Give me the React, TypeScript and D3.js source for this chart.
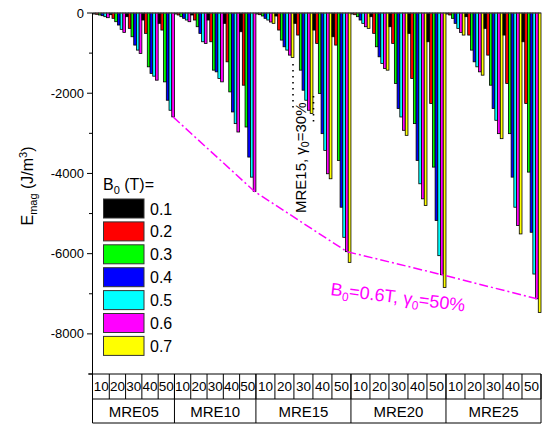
import React from "react";
import * as d3 from "d3";

const mreGroups = ["MRE05", "MRE10", "MRE15", "MRE20", "MRE25"];
const strainLabels = ["10", "20", "30", "40", "50"];
const b0Labels = ["0.1", "0.2", "0.3", "0.4", "0.5", "0.6", "0.7"];
const b0Colors = ["#000000", "#ff0000", "#00ff00", "#0000ff", "#00ffff", "#ff00ff", "#ffff00"];

// values per strain (rows) and B0 (columns)
const mre05 = [
  [-25, -33, -50, -67, -92, -117],
  [-42, -133, -217, -300, -408, -483],
  [-92, -383, -592, -800, -925, -1008],
  [-175, -508, -1342, -1508, -1575, -1675],
  [-258, -425, -1717, -2175, -2425, -2590],
];
const mre10 = [
  [-25, -50, -92, -133, -175, -217],
  [-50, -175, -342, -508, -717, -758],
  [-175, -717, -1425, -1467, -1633, -1717],
  [-258, -1217, -1967, -2467, -2758, -2967],
  [-467, -1800, -2842, -3592, -4092, -4450],
];
const mre15 = [
  [-25, -42, -75, -133, -175, -225, -258],
  [-75, -425, -675, -842, -925, -1050, -1108],
  [-258, -550, -1425, -1925, -2175, -2425, -2508],
  [-425, -758, -2008, -3008, -3425, -4008, -4133],
  [-592, -800, -3675, -4842, -5592, -5950, -6217],
];
const mre20 = [
  [-25, -42, -92, -175, -258, -342, -383],
  [-92, -508, -842, -1092, -1258, -1383, -1425],
  [-342, -758, -1758, -2383, -2592, -2925, -3050],
  [-508, -1633, -2758, -3675, -4258, -4633, -4800],
  [-717, -2258, -3842, -5175, -6050, -6525, -6842],
];
const mre25 = [
  [-25, -50, -133, -258, -383, -483, -550],
  [-92, -550, -925, -1217, -1342, -1467, -1550],
  [-383, -1050, -1800, -2383, -2675, -3008, -3133],
  [-550, -1758, -3008, -4092, -4842, -5300, -5508],
  [-717, -2258, -3967, -5467, -6508, -7125, -7467],
];
const groupValues = [mre05, mre10, mre15, mre20, mre25];

const yMajorTicks = [0, -2000, -4000, -6000, -8000];
const yMinorTicks = [-1000, -3000, -5000, -7000, -9000];
const yDomain = [-9000, 0];

const W = 543;
const H = 427;
const left = 93;
const right = 541;
const top = 13;
const bottom = 374;
const row1 = 399;
const row2 = 423;
const FONT = "Arial, 'Liberation Sans', sans-serif";

type Bar = { id: string; g: number; s: number; b: number; v: number };

export default function App() {
  const bars: Bar[] = [];
  groupValues.forEach((gv, g) =>
    gv.forEach((sv, s) =>
      sv.forEach((v, b) => bars.push({ id: `${g}-${s}-${b}`, g, s, b, v }))
    )
  );
  const x = d3.scaleBand<string>().domain(bars.map((d) => d.id)).range([left, right]).padding(0);
  const y = d3.scaleLinear().domain(yDomain).range([bottom, top]);
  const bw = x.bandwidth();

  const subs: { g: number; s: number; x0: number; x1: number }[] = [];
  groupValues.forEach((gv, g) =>
    gv.forEach((sv, s) => {
      const x0 = x(`${g}-${s}-0`)!;
      const x1 = x(`${g}-${s}-${sv.length - 1}`)! + bw;
      subs.push({ g, s, x0, x1 });
    })
  );
  const groups = groupValues.map((gv, g) => {
    const x0 = x(`${g}-0-0`)!;
    const last = gv[gv.length - 1];
    const x1 = x(`${g}-${gv.length - 1}-${last.length - 1}`)! + bw;
    return { g, x0, x1 };
  });

  const linePts: [number, number][] = groupValues.map((gv, g) => {
    const v = gv[4][5];
    return [x(`${g}-4-5`)! + bw / 2, y(v)];
  });
  const line = d3.line();

  return (
    <svg
      width={W}
      height={H}
      style={{ position: "absolute", left: 0, top: 0, background: "#fff" }}
      fontFamily={FONT}
    >
      <rect width={W} height={H} fill="#fff" />
      {bars.map((d) => (
        <rect
          key={d.id}
          x={x(d.id)}
          y={y(0)}
          width={bw}
          height={y(d.v) - y(0)}
          fill={b0Colors[d.b]}
          stroke="#000"
          strokeWidth={0.8}
        />
      ))}
      <line x1={left - 0.5} x2={right} y1={top} y2={top} stroke="#555" strokeWidth={1} />
      <line x1={left - 0.5} x2={left - 0.5} y1={top} y2={row2} stroke="#000" strokeWidth={1} />
      {yMajorTicks.map((t) => (
        <g key={t}>
          <line x1={left - 6} x2={left - 0.5} y1={y(t)} y2={y(t)} stroke="#000" />
          <text x={left - 9} y={y(t) + 4.5} fontSize={13} textAnchor="end" fill="#000">
            {t}
          </text>
        </g>
      ))}
      {yMinorTicks.map((t) => (
        <line key={t} x1={left - 4} x2={left - 0.5} y1={y(t)} y2={y(t)} stroke="#000" />
      ))}
      <text transform="translate(33,186) rotate(-90)" fontSize={16} textAnchor="middle" fill="#000">
        E<tspan dy={4} fontSize={11}>mag</tspan>
        <tspan dy={-4}> (J/m</tspan>
        <tspan dy={-6} fontSize={11}>3</tspan>
        <tspan dy={6}>)</tspan>
      </text>

      <line x1={left - 5} x2={right} y1={bottom} y2={bottom} stroke="#000" />
      <line x1={left - 0.5} x2={right} y1={row1} y2={row1} stroke="#000" />
      <line x1={left - 0.5} x2={right} y1={row2} y2={row2} stroke="#000" />
      {subs.map((sb) => (
        <g key={`${sb.g}-${sb.s}`}>
          <line x1={sb.x1} x2={sb.x1} y1={bottom} y2={row1} stroke="#000" />
          <text
            x={(sb.x0 + sb.x1) / 2}
            y={bottom + 17}
            fontSize={13.5}
            textAnchor="middle"
            fill="#000"
          >
            {strainLabels[sb.s]}
          </text>
        </g>
      ))}
      {groups.map((gr) => (
        <g key={gr.g}>
          <line x1={gr.x1} x2={gr.x1} y1={bottom} y2={row2} stroke="#000" />
          <text x={(gr.x0 + gr.x1) / 2} y={row1 + 18} fontSize={15} textAnchor="middle" fill="#000">
            {mreGroups[gr.g]}
          </text>
        </g>
      ))}

      <path
        d={line(linePts) || ""}
        fill="none"
        stroke="#ff00ff"
        strokeWidth={1.5}
        strokeDasharray="9,3,2,3"
      />
      <text transform="translate(330,295) rotate(7)" fontSize={18} fill="#ff00ff">
        B<tspan dy={4} fontSize={12}>0</tspan>
        <tspan dy={-4}>=0.6T, γ</tspan>
        <tspan dy={4} fontSize={12}>0</tspan>
        <tspan dy={-4}>=50%</tspan>
      </text>

      <line x1={293} x2={293} y1={64} y2={108} stroke="#000" strokeWidth={1.6} strokeDasharray="1.6,4.4" />
      <line x1={313.5} x2={313.5} y1={96} y2={122} stroke="#000" strokeWidth={1.6} strokeDasharray="1.6,4.4" />
      <text transform="translate(306,213) rotate(-90)" fontSize={15} fill="#000">
        MRE15, γ<tspan dy={3} fontSize={10.5}>0</tspan>
        <tspan dy={-3}>=30%</tspan>
      </text>

      <text x={103} y={190} fontSize={16} fill="#000">
        B<tspan dy={4} fontSize={11}>0</tspan>
        <tspan dy={-4}> (T)=</tspan>
      </text>
      {b0Labels.map((lab, i) => (
        <g key={lab}>
          <rect
            x={103.5}
            y={199 + i * 22.9}
            width={40.5}
            height={19}
            fill={b0Colors[i]}
            stroke="#333"
            strokeWidth={1}
          />
          <text x={150} y={199 + i * 22.9 + 15.5} fontSize={16} fill="#000">
            {lab}
          </text>
        </g>
      ))}
    </svg>
  );
}
